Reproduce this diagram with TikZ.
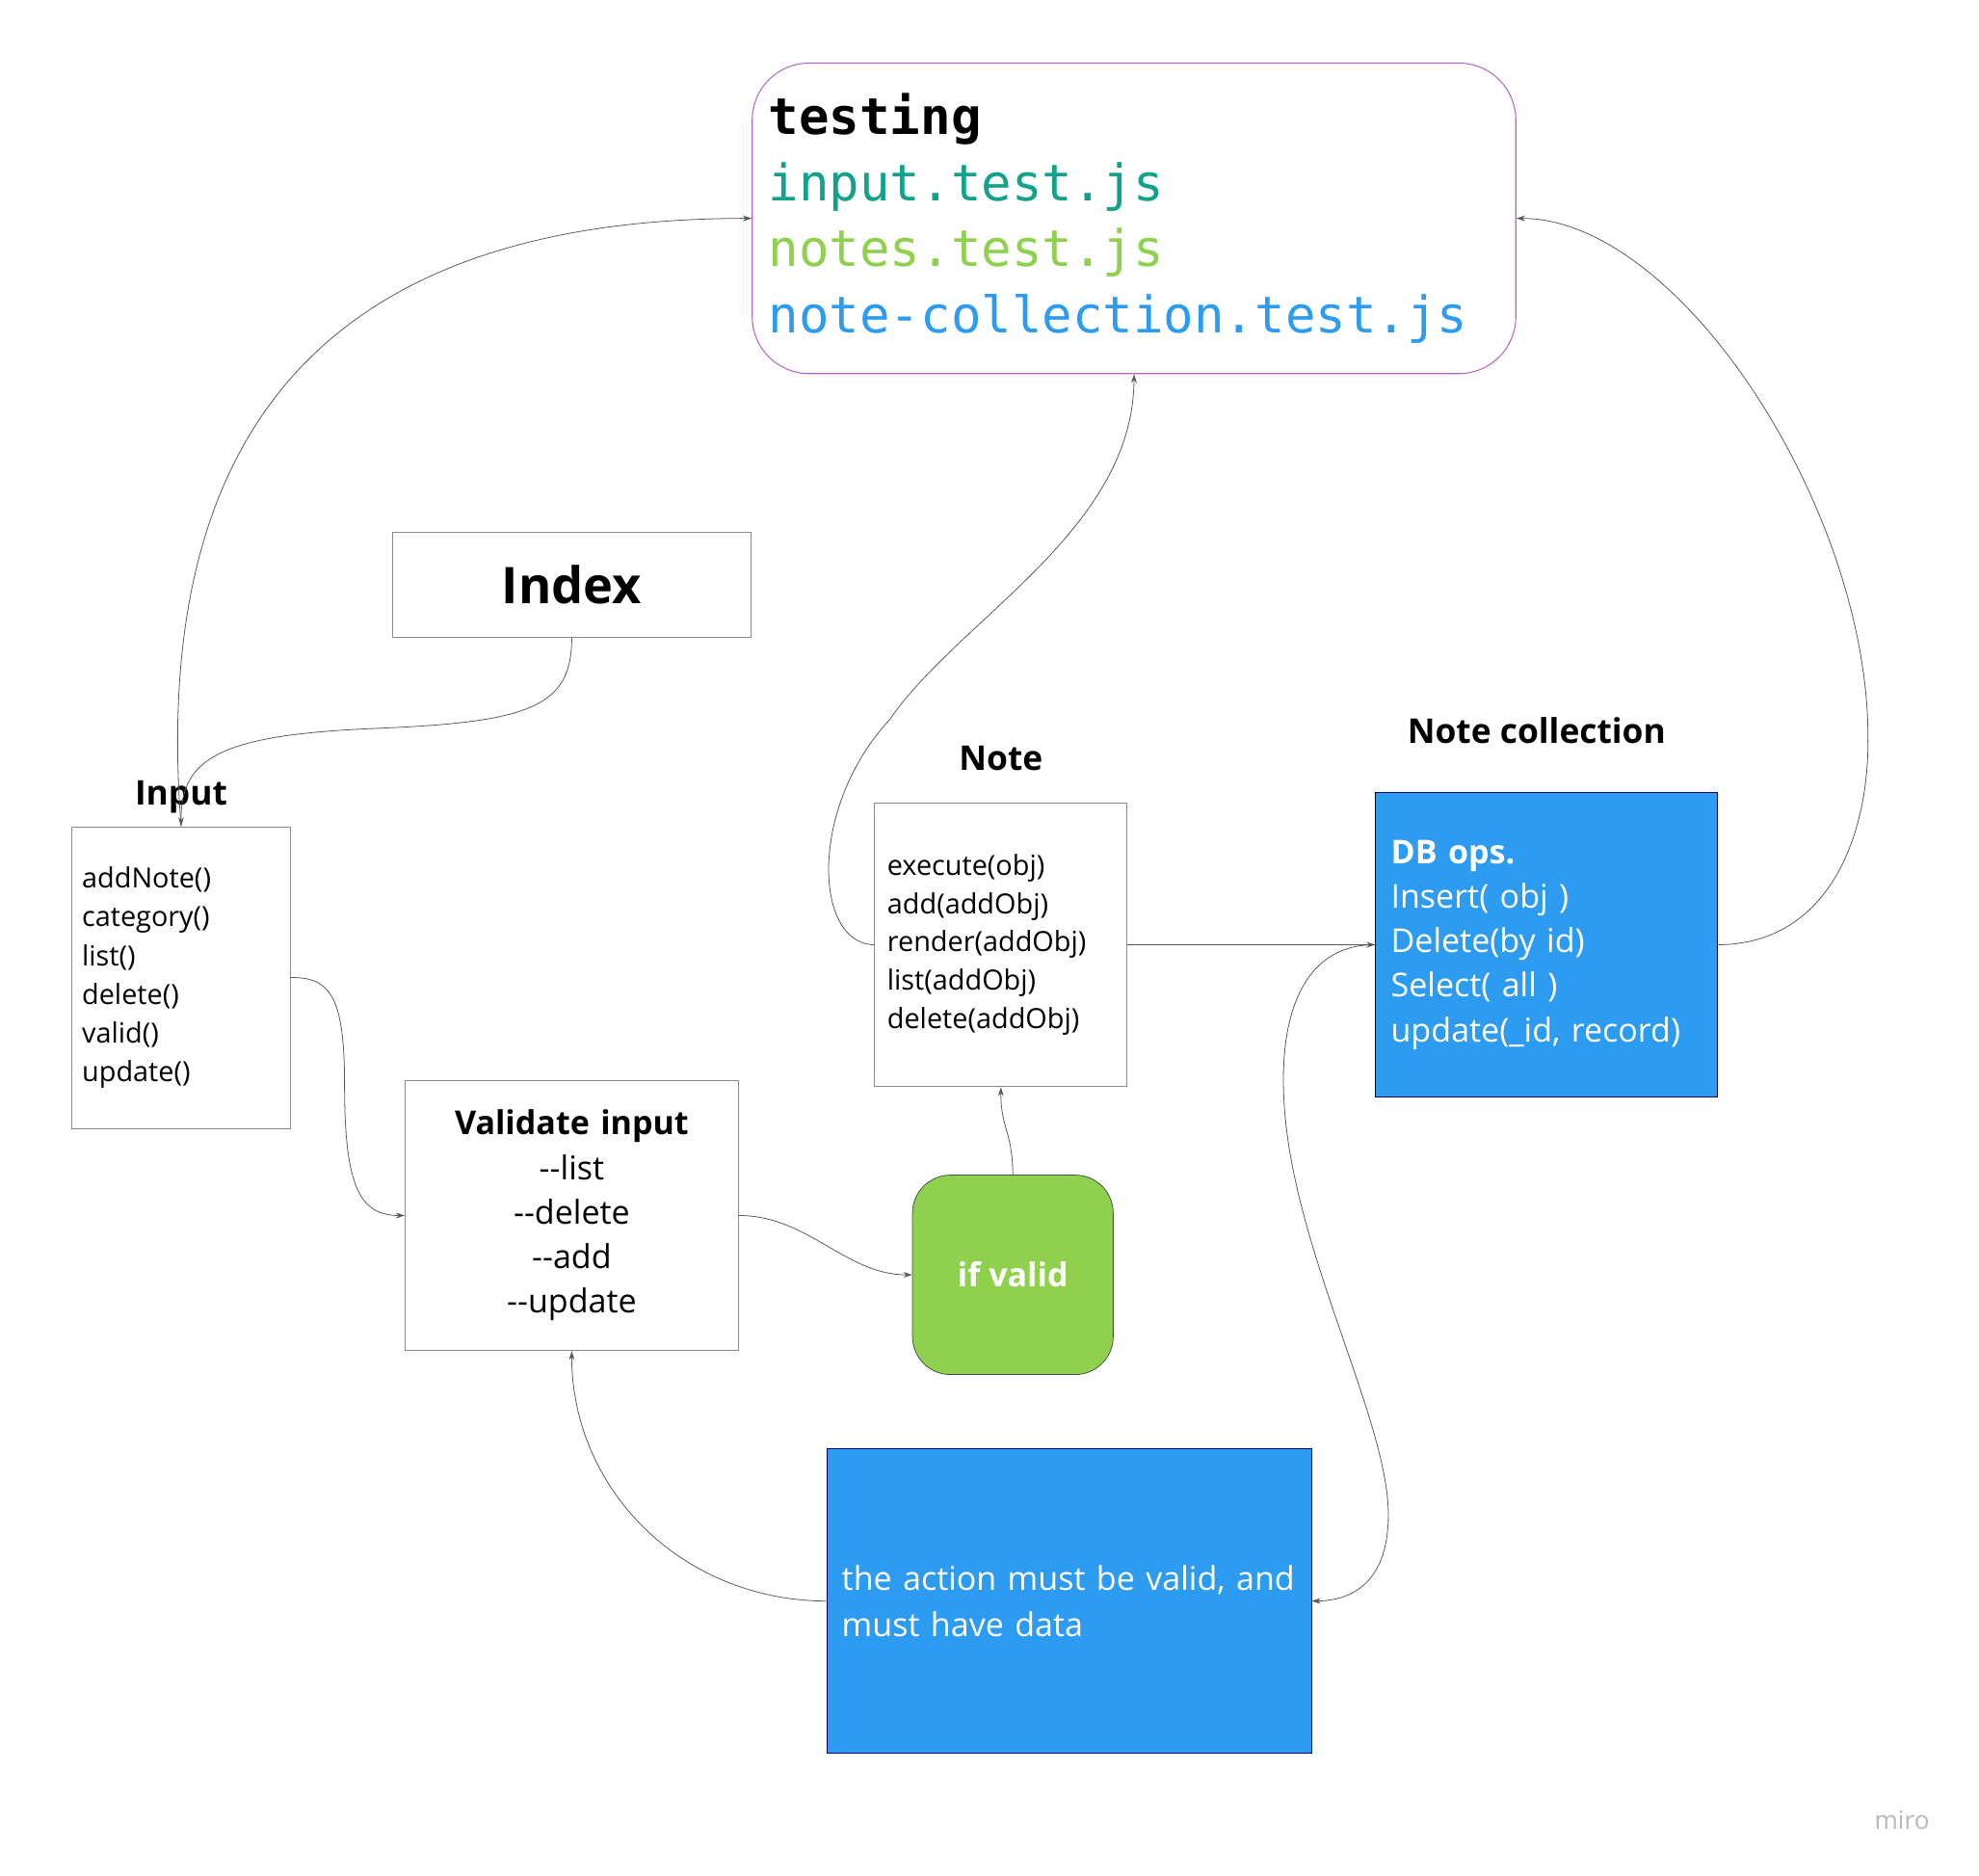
\documentclass[tikz,border=0pt]{standalone}
\usepackage{fontspec}
\setmainfont{Open Sans}
\setmonofont{DejaVu Sans Mono}
\usetikzlibrary{positioning,arrows.meta}
\definecolor{miroblu}{HTML}{2D9BF0}
\definecolor{miroverde}{HTML}{8FD14F}
\definecolor{testverde}{HTML}{12A189}
\definecolor{viola}{HTML}{B564C8}
\newcommand{\dimfont}[2]{\fontsize{#1}{#2}\selectfont}
\begin{document}
\begin{tikzpicture}[x=1pt,y=-1pt,
  box/.style={draw=gray!90, line width=0.8pt, inner ysep=0pt},
  bluebox/.style={draw=blue!45!black, line width=0.6pt, fill=miroblu, text=white, inner ysep=0pt},
  etichetta/.style={inner sep=0pt, font=\bfseries\dimfont{27}{30}},
  freccia/.style={draw=black!65, line width=0.6pt, -{Stealth[length=7pt,width=4.5pt]}}]
  \useasboundingbox (0,0) rectangle (1568,1485.6);
  \fill[white] (0,0) rectangle (1568,1485.6);
  %scatole
  \node[box, draw=viola, rounded corners=45pt, minimum width=605, minimum height=246,
    text width=579, inner xsep=13, align=left, font=\ttfamily\dimfont{40}{52.5}] (testing) at (898.5,173)
    {\textbf{testing}\\\textcolor{testverde}{input.test.js}\\\textcolor{miroverde}{notes.test.js}\\\textcolor{miroblu}{note-collection.test.js}};
  \node[box, minimum width=284, minimum height=83, font=\bfseries\dimfont{40}{46}] (index) at (453,463.5) {Index};
  \node[box, minimum width=173, minimum height=239, text width=157, inner xsep=8, align=left,
    font=\dimfont{22}{30.6}] (input) at (143.5,774.5)
    {addNote()\\category()\\list()\\delete()\\valid()\\update()};
  \node[box, minimum width=264, minimum height=214, text width=240, inner xsep=12, align=center,
    font=\dimfont{26}{35.3}] (validate) at (453,963)
    {\textbf{Validate input}\\-\kern0pt-list\\-\kern0pt-delete\\-\kern0pt-add\\-\kern0pt-update};
  \node[box, minimum width=200, minimum height=225, text width=180, inner xsep=10, align=left,
    font=\dimfont{22}{30.5}] (note) at (793,748.5)
    {execute(obj)\\add(addObj)\\render(addObj)\\list(addObj)\\delete(addObj)};
  \node[bluebox, minimum width=271, minimum height=241, text width=247, inner xsep=12, align=left,
    font=\dimfont{26}{35.3}] (collection) at (1225.5,748.5)
    {\textbf{DB ops.}\\Insert( obj )\\Delete(by id)\\Select( all )\\update(\_id, record)};
  \node[draw=black!70, line width=0.6pt, fill=miroverde, rounded corners=30pt, minimum width=159, minimum height=158,
    text=white, font=\bfseries\dimfont{26}{30}] (ifvalid) at (802.5,1010) {if valid};
  \node[bluebox, minimum width=384, minimum height=241, text width=360, inner xsep=12, align=left,
    font=\dimfont{26}{36}] (action) at (847,1268.5)
    {the action must be valid, and\\must have data};
  %etichette
  \node[etichetta, above=10pt of input] (inputlbl) {Input};
  \node[etichetta, above=25pt of note] (notelbl) {Note};
  \node[etichetta, above=38pt of collection, xshift=-8pt] (collectionlbl) {Note collection};
  \node[text=gray!55, font=\dimfont{20}{24}] (miro) at (1507,1442) {miro};
  %frecce
  \draw[freccia] (input.north) .. controls (118,330) and (270,173) .. (testing.west);
  \draw[freccia] (index.south) .. controls (453,560) and (420,572) .. (300,577)
    .. controls (175,582) and (143,600) .. (input.north);
  \draw[freccia] (input.east) .. controls (262,774) and (273,790) .. (273,860)
    .. controls (273,940) and (285,963) .. (validate.west);
  \draw[freccia] (validate.east) .. controls (640,963) and (670,1010) .. (ifvalid.west);
  \draw[freccia] (ifvalid.north) .. controls (802,895) and (793,895) .. (note.south);
  \draw[freccia] (note.east) -- (collection.west);
  \draw[freccia] (note.west) .. controls (645,748) and (640,640) .. (705,570)
    .. controls (760,490) and (898,420) .. (testing.south);
  \draw[freccia] (collection.east) .. controls (1450,748) and (1482,660) .. (1480,580)
    .. controls (1478,400) and (1330,173) .. (testing.east);
  \draw[freccia] (collection.west) .. controls (1030,748) and (1008,810) .. (1020,900)
    .. controls (1035,1010) and (1100,1130) .. (1100,1200)
    .. controls (1100,1250) and (1075,1268) .. (action.east);
  \draw[freccia] (action.west) .. controls (540,1268) and (453,1180) .. (validate.south);
\end{tikzpicture}
\end{document}
